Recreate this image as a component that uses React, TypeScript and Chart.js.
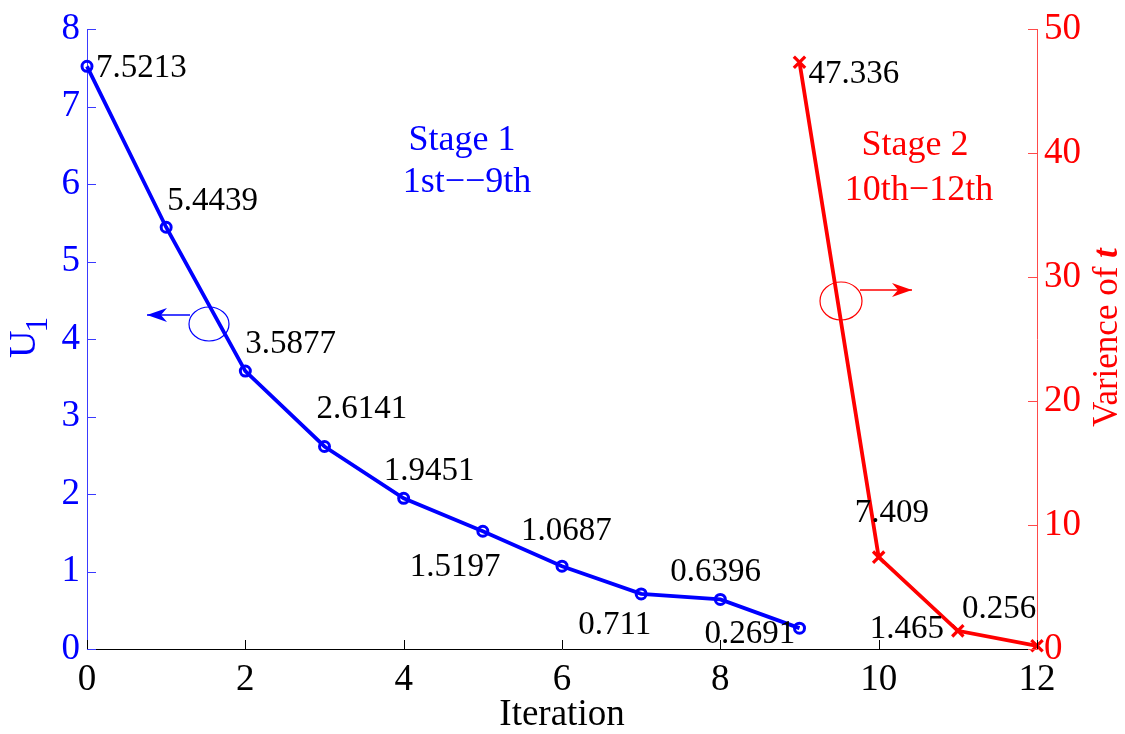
import React, { useEffect, useRef } from 'react';
import { Chart, registerables } from 'chart.js';

Chart.register(...registerables);

// ---------------- data ----------------
const iterStage1 = [0, 1, 2, 3, 4, 5, 6, 7, 8, 9];
const u1Values = [7.5213, 5.4439, 3.5877, 2.6141, 1.9451, 1.5197, 1.0687, 0.711, 0.6396, 0.2691];
const u1Labels = ['7.5213', '5.4439', '3.5877', '2.6141', '1.9451', '1.5197', '1.0687', '0.711', '0.6396', '0.2691'];

const iterStage2 = [9, 10, 11, 12];
const varValues = [47.336, 7.409, 1.465, 0.256];
const varLabels = ['47.336', '7.409', '1.465', '0.256'];

const xTickValues = [0, 2, 4, 6, 8, 10, 12];
const leftTickValues = [0, 1, 2, 3, 4, 5, 6, 7, 8];
const rightTickValues = [0, 10, 20, 30, 40, 50];

const xTitle = 'Iteration';
const leftTitleMain = 'U';
const leftTitleSub = '1';
const rightTitleMain = 'Varience of ';
const rightTitleVar = 't';
const stage1Lines = ['Stage 1', '1st\u2212\u22129th'];
const stage2Lines = ['Stage 2', '10th\u221212th'];

// ---------------- style ----------------
const SERIF = "'Liberation Serif', 'Times New Roman', serif";
const BLUE = '#0000ff';
const RED = '#ff0000';
// label offsets (px) relative to each point
const u1LabelOffsets = [
  [9, 2], [1, -26], [0, -27], [-8, -37], [-20, -27],
  [-73, 36], [-41, -35], [-63, 31], [-50, -27], [-95, 6],
];
const varLabelOffsets = [[9, 12], [-24, -44], [-88, -2], [-75, -36]];

const annotationPlugin = {
  id: 'annotations',
  afterDatasetsDraw(chart: any) {
    const { ctx, scales } = chart;
    const xs = scales.x, yl = scales.y, yr = scales.y1;
    const area = chart.chartArea;
    ctx.save();

    // inward tick marks
    ctx.lineWidth = 1;
    ctx.strokeStyle = '#000';
    xTickValues.forEach((v) => {
      const px = Math.round(xs.getPixelForValue(v)) + 0.5;
      ctx.beginPath();
      ctx.moveTo(px, area.bottom);
      ctx.lineTo(px, area.bottom - 9);
      ctx.stroke();
    });
    ctx.strokeStyle = '#3a3aff';
    leftTickValues.forEach((v) => {
      const py = Math.round(yl.getPixelForValue(v)) + 0.5;
      ctx.beginPath();
      ctx.moveTo(area.left, py);
      ctx.lineTo(area.left + 9, py);
      ctx.stroke();
    });
    ctx.strokeStyle = '#ff4a4a';
    rightTickValues.forEach((v) => {
      const py = Math.round(yr.getPixelForValue(v)) + 0.5;
      ctx.beginPath();
      ctx.moveTo(area.right, py);
      ctx.lineTo(area.right - 9, py);
      ctx.stroke();
    });

    // data labels
    ctx.fillStyle = '#000';
    ctx.font = `33px ${SERIF}`;
    ctx.textAlign = 'left';
    ctx.textBaseline = 'middle';
    iterStage1.forEach((it, i) => {
      const px = xs.getPixelForValue(it);
      const py = yl.getPixelForValue(u1Values[i]);
      ctx.fillText(u1Labels[i], px + u1LabelOffsets[i][0], py + u1LabelOffsets[i][1]);
    });
    iterStage2.forEach((it, i) => {
      const px = xs.getPixelForValue(it);
      const py = yr.getPixelForValue(varValues[i]);
      ctx.fillText(varLabels[i], px + varLabelOffsets[i][0], py + varLabelOffsets[i][1]);
    });

    // stage texts
    ctx.font = `36px ${SERIF}`;
    ctx.textAlign = 'center';
    ctx.textBaseline = 'alphabetic';
    ctx.fillStyle = BLUE;
    ctx.fillText(stage1Lines[0], 462, 150);
    ctx.fillText(stage1Lines[1], 467, 192);
    ctx.fillStyle = RED;
    ctx.fillText(stage2Lines[0], 915, 155);
    ctx.fillText(stage2Lines[1], 919, 200);

    // ellipses and arrows
    const arrow = (x0: number, x1: number, y: number, color: string) => {
      ctx.strokeStyle = color;
      ctx.fillStyle = color;
      ctx.lineWidth = 1.3;
      ctx.beginPath();
      ctx.moveTo(x0, y);
      ctx.lineTo(x1, y);
      ctx.stroke();
      const dir = Math.sign(x1 - x0);
      const L = 20, W = 7, notch = 6;
      ctx.beginPath();
      ctx.moveTo(x1, y);
      ctx.lineTo(x1 - dir * L, y - W);
      ctx.lineTo(x1 - dir * (L - notch), y);
      ctx.lineTo(x1 - dir * L, y + W);
      ctx.closePath();
      ctx.fill();
    };
    ctx.lineWidth = 1.2;
    ctx.strokeStyle = BLUE;
    ctx.beginPath();
    ctx.ellipse(209, 324, 20, 17, 0, 0, Math.PI * 2);
    ctx.stroke();
    arrow(190, 147, 315, BLUE);
    ctx.lineWidth = 1.2;
    ctx.strokeStyle = RED;
    ctx.beginPath();
    ctx.ellipse(841, 301, 21, 19, 0, 0, Math.PI * 2);
    ctx.stroke();
    arrow(860, 912, 290, RED);

    // axis titles
    ctx.fillStyle = '#000';
    ctx.font = `37px ${SERIF}`;
    ctx.textAlign = 'center';
    ctx.textBaseline = 'alphabetic';
    ctx.fillText(xTitle, (area.left + area.right) / 2, 725);

    // left title (rotated)
    ctx.save();
    ctx.translate(35, 358);
    ctx.rotate(-Math.PI / 2);
    ctx.fillStyle = BLUE;
    ctx.textAlign = 'left';
    ctx.font = `38px ${SERIF}`;
    ctx.fillText(leftTitleMain, 0, 0);
    const uw = ctx.measureText(leftTitleMain).width;
    ctx.font = `31px ${SERIF}`;
    ctx.fillText(leftTitleSub, uw - 2, 12);
    ctx.restore();

    // right title (rotated)
    ctx.save();
    ctx.translate(1117, 427);
    ctx.rotate(-Math.PI / 2);
    ctx.fillStyle = RED;
    ctx.textAlign = 'left';
    ctx.font = `35px ${SERIF}`;
    ctx.fillText(rightTitleMain, 0, 0);
    const mw = ctx.measureText(rightTitleMain).width;
    ctx.font = `italic bold 35px ${SERIF}`;
    ctx.fillText(rightTitleVar, mw, 0);
    ctx.restore();

    ctx.restore();
  },
};

export default function App() {
  const canvasRef = useRef<HTMLCanvasElement | null>(null);

  useEffect(() => {
    if (!canvasRef.current) return;
    const chart = new Chart(canvasRef.current, {
      type: 'line',
      data: {
        datasets: [
          {
            label: 'U1',
            data: iterStage1.map((x, i) => ({ x, y: u1Values[i] })),
            yAxisID: 'y',
            borderColor: BLUE,
            backgroundColor: BLUE,
            borderWidth: 3.8,
            pointStyle: 'circle',
            pointRadius: 5,
            pointBorderWidth: 3,
            pointBackgroundColor: 'rgba(0,0,0,0)',
            pointBorderColor: BLUE,
            tension: 0,
            clip: false as any,
          },
          {
            label: 'Varience of t',
            data: iterStage2.map((x, i) => ({ x, y: varValues[i] })),
            yAxisID: 'y1',
            borderColor: RED,
            backgroundColor: RED,
            borderWidth: 3.8,
            pointStyle: 'crossRot',
            pointRadius: 8,
            pointBorderWidth: 3.2,
            pointBorderColor: RED,
            tension: 0,
            clip: false as any,
          },
        ],
      },
      options: {
        animation: false,
        responsive: false,
        maintainAspectRatio: false,
        layout: { padding: { top: 24, left: 0, right: 0, bottom: 0 } },
        plugins: {
          legend: { display: false },
          tooltip: { enabled: false },
        },
        scales: {
          x: {
            type: 'linear',
            position: 'bottom',
            min: 0,
            max: 12,
            afterBuildTicks: (s: any) => { s.ticks = xTickValues.map((v) => ({ value: v })); },
            ticks: {
              color: '#000',
              font: { family: SERIF, size: 37 },
              padding: 9,
              maxRotation: 0,
              autoSkip: false,
            },
            grid: { display: false, drawTicks: false },
            border: { display: true, color: '#000', width: 1 },
            afterFit: (s: any) => { s.height = 85; },
          },
          y: {
            type: 'linear',
            position: 'left',
            min: 0,
            max: 8,
            afterBuildTicks: (s: any) => { s.ticks = leftTickValues.map((v) => ({ value: v })); },
            ticks: {
              color: BLUE,
              font: { family: SERIF, size: 37 },
              padding: 7,
            },
            grid: { display: false, drawTicks: false },
            border: { display: true, color: '#3a3aff', width: 1 },
            afterFit: (s: any) => { s.width = 87; },
          },
          y1: {
            type: 'linear',
            position: 'right',
            min: 0,
            max: 50,
            afterBuildTicks: (s: any) => { s.ticks = rightTickValues.map((v) => ({ value: v })); },
            ticks: {
              color: RED,
              font: { family: SERIF, size: 37 },
              padding: 7,
            },
            grid: { display: false, drawTicks: false },
            border: { display: true, color: '#ff4a4a', width: 1 },
            afterFit: (s: any) => { s.width = 88; },
          },
        },
      },
      plugins: [annotationPlugin],
    });
    let alive = true;
    const fonts: any = (document as any).fonts;
    if (fonts && fonts.load) {
      Promise.all([
        fonts.load(`37px "Liberation Serif"`),
        fonts.load(`italic bold 35px "Liberation Serif"`),
      ]).then(() => { if (alive) chart.update(); }).catch(() => {});
    }
    return () => { alive = false; chart.destroy(); };
  }, []);

  return (
    <div style={{ position: 'fixed', left: 0, top: 0, width: 1125, height: 734, background: '#fff' }}>
      <canvas ref={canvasRef} width={1125} height={734} style={{ display: 'block' }} />
    </div>
  );
}
